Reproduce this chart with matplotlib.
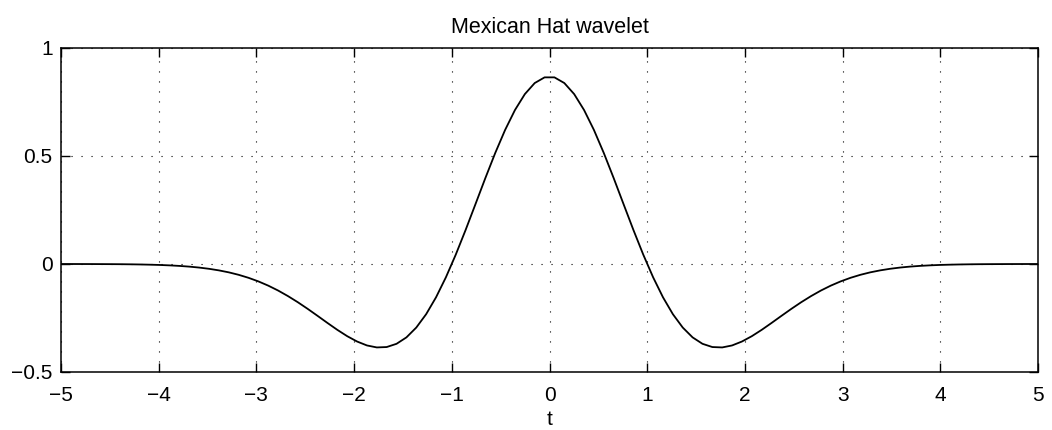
import matplotlib
matplotlib.use("Agg")
import matplotlib.pyplot as plt

# Mexican Hat wavelet sampled on 100 points over [-5, 5]
t_pos = [0.0505, 0.1515, 0.2525, 0.3535, 0.4545, 0.5556, 0.6566, 0.7576, 0.8586, 0.9596,
         1.0606, 1.1616, 1.2626, 1.3636, 1.4646, 1.5657, 1.6667, 1.7677, 1.8687, 1.9697,
         2.0707, 2.1717, 2.2727, 2.3737, 2.4747, 2.5758, 2.6768, 2.7778, 2.8788, 2.9798,
         3.0808, 3.1818, 3.2828, 3.3838, 3.4848, 3.5859, 3.6869, 3.7879, 3.8889, 3.9899,
         4.0909, 4.1919, 4.2929, 4.3939, 4.4949, 4.5960, 4.6970, 4.7980, 4.8990, 5.0000]
psi_pos = [0.8640, 0.8377, 0.7865, 0.7129, 0.6206, 0.5139, 0.3978, 0.2774, 0.1577, 0.0433,
           -0.0617, -0.1543, -0.2323, -0.2942, -0.3398, -0.3695, -0.3845, -0.3863, -0.3771, -0.3589,
           -0.3342, -0.3049, -0.2730, -0.2402, -0.2079, -0.1771, -0.1487, -0.1229, -0.1002, -0.0806,
           -0.0640, -0.0501, -0.0387, -0.0296, -0.0223, -0.0166, -0.0122, -0.0089, -0.0064, -0.0045,
           -0.0032, -0.0022, -0.0015, -0.0010, -0.0007, -0.0005, -0.0003, -0.0002, -0.0001, -0.0001]

# the wavelet is even: negative half mirrors the positive half
t = [-v for v in reversed(t_pos)] + t_pos
psi = list(reversed(psi_pos)) + psi_pos

x_ticks = [-5, -4, -3, -2, -1, 0, 1, 2, 3, 4, 5]
y_ticks = [-0.5, 0, 0.5, 1]
y_tick_labels = ["\u22120.5", "0", "0.5", "1"]

plt.rcParams["font.family"] = ["Liberation Sans", "DejaVu Sans"]
plt.rcParams["axes.unicode_minus"] = True

fig = plt.figure(figsize=(10.52, 4.30), dpi=100)
ax = fig.add_axes([0.058, 0.1349, 0.9287, 0.7535])

ax.plot(t, psi, color="black", linewidth=1.3)

ax.set_xlim(-5, 5)
ax.set_ylim(-0.5, 1)
ax.set_xticks(x_ticks)
ax.set_yticks(y_ticks)
ax.set_yticklabels(y_tick_labels)

ax.grid(True, color="black", linestyle=(0, (1, 8)), linewidth=0.8)
ax.tick_params(direction="in", length=6.5, width=1.0, top=True, right=True,
               labelsize=15, colors="black")
ax.tick_params(axis="x", pad=10)
ax.tick_params(axis="y", pad=6)
for s in ax.spines.values():
    s.set_linewidth(1.1)
    s.set_color("black")

ax.set_title("Mexican Hat wavelet", fontsize=15.5, pad=11)
ax.set_xlabel("t", fontsize=15, labelpad=4)

fig.savefig("out.png", dpi=100)
